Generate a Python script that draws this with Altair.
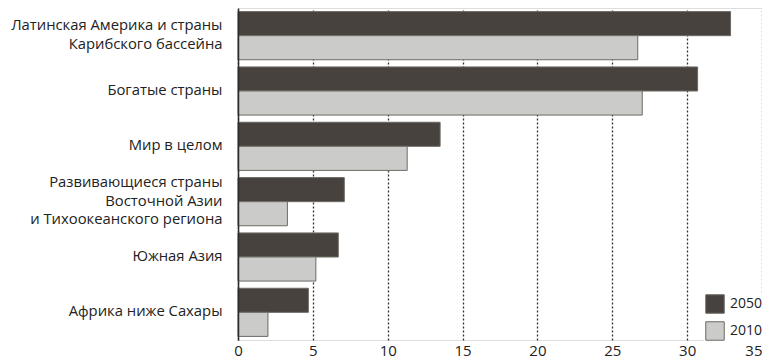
import altair as alt
import pandas as pd

regions = [
    "Латинская Америка и страны|Карибского бассейна",
    "Богатые страны",
    "Мир в целом",
    "Развивающиеся страны|Восточной Азии|и Тихоокеанского региона",
    "Южная Азия",
    "Африка ниже Сахары",
]
years = ["2050", "2010"]
values_2050 = [32.9, 30.7, 13.5, 7.1, 6.7, 4.7]
values_2010 = [26.7, 27.0, 11.3, 3.3, 5.2, 2.0]
x_ticks = [0, 5, 10, 15, 20, 25, 30, 35]

rows = []
for r, a, b in zip(regions, values_2050, values_2010):
    rows.append({"region": r, "year": "2050", "value": a})
    rows.append({"region": r, "year": "2010", "value": b})
df = pd.DataFrame(rows)

FONT = "Open Sans"
LINE_H = 18.5

chart = (
    alt.Chart(df)
    .mark_bar(stroke="#6e6a65", strokeWidth=1)
    .encode(
        x=alt.X(
            "value:Q",
            scale=alt.Scale(domain=[0, 35], nice=False, zero=True),
            axis=alt.Axis(
                values=x_ticks,
                grid=True,
                gridDash=[2, 2],
                gridColor="#333333",
                gridWidth=1.3,
                ticks=False,
                tickSize=0,
                domain=False,
                labelPadding=3,
                labelFontSize=15,
                labelColor="#222222",
                labelFont=FONT,
                labelAlign={"expr": "datum.value == 35 ? 'right' : 'center'"},
                title=None,
            ),
        ),
        y=alt.Y(
            "region:N",
            sort=regions,
            scale=alt.Scale(paddingInner=0.13, paddingOuter=0.065),
            axis=alt.Axis(
                title=None,
                ticks=False,
                tickSize=0,
                domain=True,
                domainColor="#2b2b2b",
                domainWidth=1.5,
                labelExpr="split(datum.label, '|')",
                labelOffset={"expr": f"-(length(split(datum.value, '|')) - 1) * {LINE_H / 2}"},
                labelFontSize=14.8,
                labelLineHeight=LINE_H,
                labelPadding=16,
                labelLimit=0,
                labelColor="#222222",
                labelFont=FONT,
                zindex=1,
            ),
        ),
        yOffset=alt.YOffset(
            "year:N",
            sort=years,
            scale=alt.Scale(domain=years, paddingInner=0, paddingOuter=0),
        ),
        color=alt.Color(
            "year:N",
            scale=alt.Scale(domain=years, range=["#47423d", "#cbcbc9"]),
            legend=alt.Legend(
                orient="none",
                legendX=466,
                legendY=285,
                padding=1,
                fillColor="white",
                symbolType="square",
                symbolSize=342,
                symbolStrokeColor="#6e6a65",
                symbolStrokeWidth=1,
                symbolOpacity=1,
                labelFontSize=14,
                labelFont=FONT,
                labelColor="#222222",
                labelOffset=5,
                rowPadding=3,
                title=None,
            ),
        ),
    )
    .properties(
        width=524,
        height=332,
        autosize=alt.AutoSizeParams(type="none"),
        padding={"left": 230, "top": 0, "right": 0, "bottom": 22},
    )
    .configure_view(stroke=None)
    .configure(font=FONT)
)

chart.save("out.html", embed_options={"renderer": "svg", "actions": False})
